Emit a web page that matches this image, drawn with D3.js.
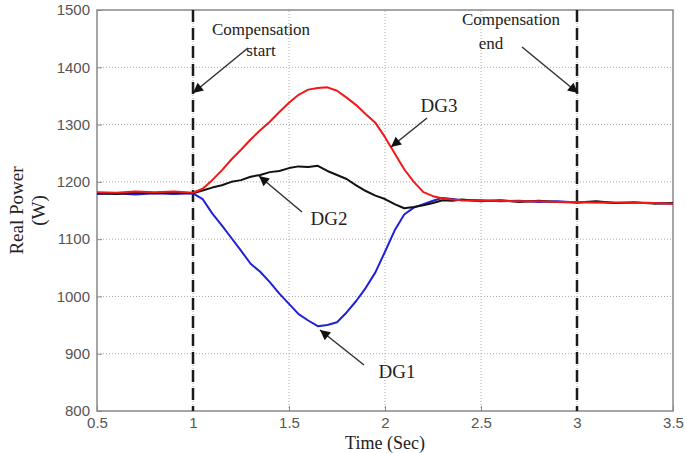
<!DOCTYPE html>
<html>
<head>
<meta charset="utf-8">
<script src="https://cdn.jsdelivr.net/npm/d3@7/dist/d3.min.js"></script>
<style>
  body { margin: 0; background: #fff; }
  svg { display: block; }
</style>
</head>
<body>
<script>
/* global d3 */

// time samples (s)
const time = [0.5, 0.6, 0.7, 0.8, 0.9, 1.0,
  1.05, 1.1, 1.15, 1.2, 1.25, 1.3, 1.35, 1.4, 1.45, 1.5, 1.55, 1.6, 1.65, 1.7,
  1.75, 1.8, 1.85, 1.9, 1.95, 2.0, 2.05, 2.1, 2.15, 2.2, 2.25, 2.3, 2.35, 2.4,
  2.5, 2.6, 2.7, 2.8, 2.9, 3.0, 3.1, 3.2, 3.3, 3.4, 3.5];

// real power of each DG (W)
const dg1 = [1179, 1180, 1178, 1180, 1179, 1180,
  1170, 1145, 1124, 1102, 1080, 1057, 1043, 1025, 1005, 987, 969, 958, 948, 950,
  955, 972, 992, 1015, 1042, 1078, 1115, 1143, 1155, 1161, 1167, 1172, 1170, 1168,
  1168, 1166, 1167, 1165, 1166, 1164, 1165, 1163, 1164, 1163, 1162];
const dg2 = [1180, 1179, 1181, 1180, 1181, 1180,
  1185, 1190, 1194, 1200, 1203, 1209, 1212, 1217, 1219, 1224, 1227, 1226, 1228, 1219,
  1212, 1205, 1194, 1184, 1176, 1170, 1161, 1154, 1156, 1159, 1163, 1168, 1167, 1169,
  1166, 1168, 1165, 1167, 1165, 1164, 1166, 1163, 1164, 1162, 1163];
const dg3 = [1182, 1181, 1183, 1182, 1183, 1181,
  1188, 1203, 1220, 1239, 1256, 1274, 1290, 1305, 1322, 1338, 1352, 1361, 1364, 1365,
  1359, 1347, 1334, 1318, 1303, 1278, 1250, 1222, 1200, 1182, 1175, 1171, 1169, 1168,
  1167, 1167, 1166, 1166, 1165, 1165, 1164, 1164, 1163, 1163, 1162];

const xTicks = [0.5, 1, 1.5, 2, 2.5, 3, 3.5];
const yTicks = [800, 900, 1000, 1100, 1200, 1300, 1400, 1500];
const markers = [1, 3];

const width = 687;
const height = 453;
const margin = { top: 10, right: 14, bottom: 42, left: 97 };

const x = d3.scaleLinear().domain([0.5, 3.5]).range([margin.left, width - margin.right]);
const y = d3.scaleLinear().domain([800, 1500]).range([height - margin.bottom, margin.top]);

const svg = d3.select('body')
  .append('svg')
  .attr('width', width)
  .attr('height', height);

const defs = svg.append('defs');
defs.append('marker')
  .attr('id', 'head')
  .attr('viewBox', '0 0 10 10')
  .attr('refX', 10)
  .attr('refY', 5)
  .attr('markerWidth', 14)
  .attr('markerHeight', 10)
  .attr('markerUnits', 'userSpaceOnUse')
  .attr('orient', 'auto')
  .append('path')
    .attr('d', 'M0,0L10,5L0,10Z')
    .attr('fill', '#111');

// grid
svg.append('g')
  .selectAll('line')
  .data(xTicks.slice(1, -1))
  .enter().append('line')
    .attr('x1', d => x(d)).attr('x2', d => x(d))
    .attr('y1', y(800)).attr('y2', y(1500))
    .attr('stroke', '#aaa')
    .attr('stroke-dasharray', '1,2');

svg.append('g')
  .selectAll('line')
  .data(yTicks.slice(1, -1))
  .enter().append('line')
    .attr('x1', x(0.5)).attr('x2', x(3.5))
    .attr('y1', d => y(d)).attr('y2', d => y(d))
    .attr('stroke', '#aaa')
    .attr('stroke-dasharray', '1,2');

// axes (matlab style: inward ticks, no domain, labels in grey)
const xAxis = svg.append('g')
  .attr('transform', `translate(0,${y(800)})`)
  .call(d3.axisBottom(x).tickValues(xTicks).tickSize(-5).tickPadding(6).tickFormat(d3.format('')));
const yAxis = svg.append('g')
  .attr('transform', `translate(${x(0.5)},0)`)
  .call(d3.axisLeft(y).tickValues(yTicks).tickSize(-5).tickPadding(7).tickFormat(d3.format('d')));

[xAxis, yAxis].forEach((ax) => {
  ax.select('.domain').remove();
  ax.selectAll('line').attr('stroke', '#888');
  ax.selectAll('text')
    .attr('fill', '#555')
    .style('font-family', 'Liberation Sans, Arial, sans-serif')
    .style('font-size', '15px');
});

svg.append('rect')
  .attr('x', x(0.5))
  .attr('y', y(1500))
  .attr('width', x(3.5) - x(0.5))
  .attr('height', y(800) - y(1500))
  .attr('fill', 'none')
  .attr('stroke', '#888')
  .attr('stroke-width', 1.5);

// compensation start / end markers
svg.append('g')
  .selectAll('line')
  .data(markers)
  .enter().append('line')
    .attr('x1', d => x(d)).attr('x2', d => x(d))
    .attr('y1', y(1500)).attr('y2', y(800))
    .attr('stroke', '#1a1a1a')
    .attr('stroke-width', 2.5)
    .attr('stroke-dasharray', '12,6');

// series
const line = d3.line()
  .x((d, i) => x(time[i]))
  .y(d => y(d));

const series = [
  { values: dg1, color: '#2020d8' },
  { values: dg2, color: '#111111' },
  { values: dg3, color: '#f01818' }
];

svg.append('g')
  .selectAll('path')
  .data(series)
  .enter().append('path')
    .attr('d', d => line(d.values))
    .attr('fill', 'none')
    .attr('stroke', d => d.color)
    .attr('stroke-width', 2)
    .attr('stroke-linejoin', 'round');

// annotations
const serif = 'Liberation Serif, Times New Roman, serif';

const labels = [
  { text: 'Compensation', x: 261, y: 35, size: 17 },
  { text: 'start', x: 261, y: 56, size: 17 },
  { text: 'Compensation', x: 511, y: 25, size: 17 },
  { text: 'end', x: 491, y: 49, size: 17 },
  { text: 'DG3', x: 439, y: 112, size: 19 },
  { text: 'DG2', x: 329, y: 225, size: 19 },
  { text: 'DG1', x: 397, y: 378, size: 19 }
];

svg.append('g')
  .selectAll('text')
  .data(labels)
  .enter().append('text')
    .attr('x', d => d.x)
    .attr('y', d => d.y)
    .attr('text-anchor', 'middle')
    .style('font-family', serif)
    .style('font-size', d => `${d.size}px`)
    .attr('fill', '#222')
    .text(d => d.text);

const arrows = [
  [248, 48, 193, 93],
  [522, 47, 578, 93],
  [427, 118, 391, 147],
  [302, 212, 259, 176],
  [364, 365, 320, 330]
];

svg.append('g')
  .selectAll('line')
  .data(arrows)
  .enter().append('line')
    .attr('x1', d => d[0]).attr('y1', d => d[1])
    .attr('x2', d => d[2]).attr('y2', d => d[3])
    .attr('stroke', '#333')
    .attr('stroke-width', 1.5)
    .attr('marker-end', 'url(#head)');

// axis titles
svg.append('text')
  .attr('x', (x(0.5) + x(3.5)) / 2)
  .attr('y', 449)
  .attr('text-anchor', 'middle')
  .style('font-family', serif)
  .style('font-size', '18px')
  .attr('fill', '#222')
  .text('Time (Sec)');

const yTitle = svg.append('text')
  .attr('transform', `translate(23,${(y(800) + y(1500)) / 2}) rotate(-90)`)
  .attr('text-anchor', 'middle')
  .style('font-family', serif)
  .style('font-size', '19px')
  .attr('fill', '#222');
yTitle.append('tspan').attr('x', 0).attr('y', 0).text('Real Power');
yTitle.append('tspan').attr('x', 0).attr('y', 22).text('(W)');
</script>
</body>
</html>
